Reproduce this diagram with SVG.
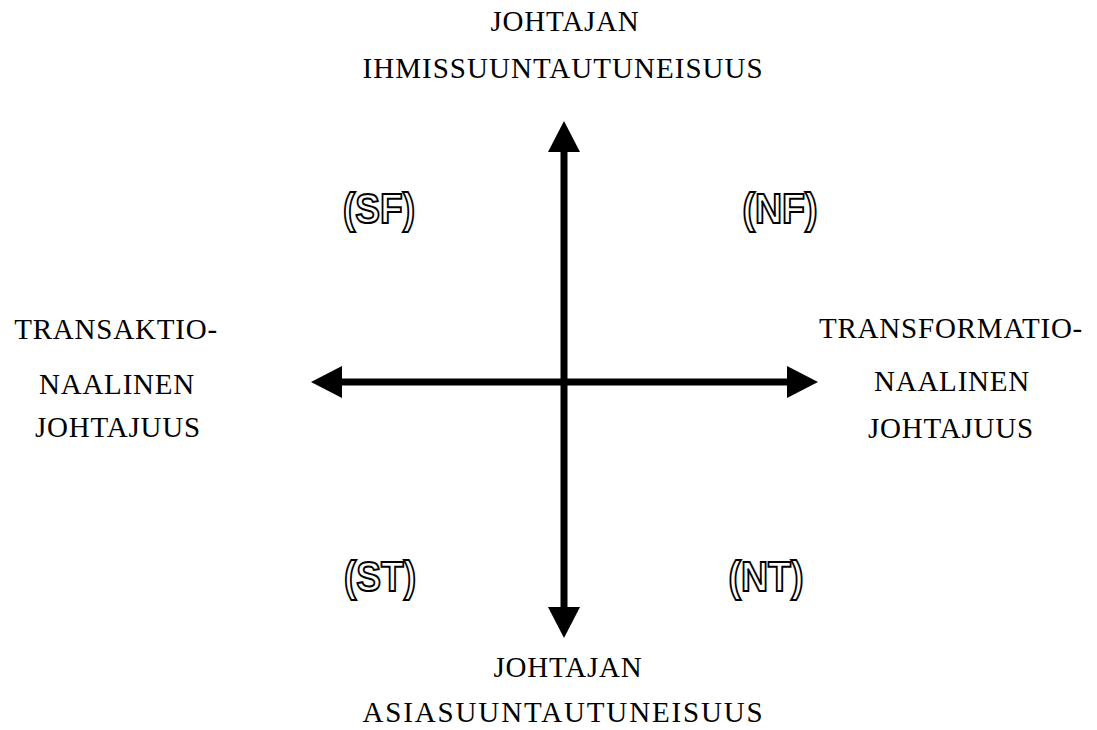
<svg xmlns="http://www.w3.org/2000/svg" width="1097" height="730" viewBox="0 0 1097 730">
<style>
.lbl{font-family:"Liberation Serif","Times New Roman",serif;font-size:29px;letter-spacing:0.8px;fill:#000;text-anchor:middle}
.q{font-family:"Liberation Sans",Arial,sans-serif;font-weight:bold;font-size:42px;fill:#fff;stroke:#000;stroke-width:2px;text-anchor:middle}
.ax{stroke:#000;stroke-width:7;fill:none}
</style>
<defs>
<marker id="ah" viewBox="0 0 31 32" refX="0" refY="16" markerWidth="31" markerHeight="32" markerUnits="userSpaceOnUse" orient="auto">
<path d="M0,0 L31,16 L0,32 Z" fill="#000"/>
</marker>
</defs>
<rect width="1097" height="730" fill="#fff"/>
<g id="connectors">
<line class="ax" x1="564" y1="382" x2="564" y2="152" marker-end="url(#ah)"/>
<line class="ax" x1="564" y1="382" x2="564" y2="607" marker-end="url(#ah)"/>
<line class="ax" x1="564" y1="382" x2="342" y2="382" marker-end="url(#ah)"/>
<line class="ax" x1="564" y1="382" x2="787" y2="382" marker-end="url(#ah)"/>
</g>
<g id="top">
<text class="lbl" x="565" y="31">JOHTAJAN</text>
<text class="lbl" x="563" y="78" textLength="401">IHMISSUUNTAUTUNEISUUS</text>
</g>
<g id="bottom">
<text class="lbl" x="568" y="677">JOHTAJAN</text>
<text class="lbl" x="563" y="722" textLength="401">ASIASUUNTAUTUNEISUUS</text>
</g>
<g id="left">
<text class="lbl" x="116" y="339">TRANSAKTIO-</text>
<text class="lbl" x="117" y="394">NAALINEN</text>
<text class="lbl" x="118" y="437">JOHTAJUUS</text>
</g>
<g id="right">
<text class="lbl" x="951" y="338">TRANSFORMATIO-</text>
<text class="lbl" x="952" y="391">NAALINEN</text>
<text class="lbl" x="951" y="438">JOHTAJUUS</text>
</g>
<g id="SF"><text class="q" x="379" y="223" textLength="72" lengthAdjust="spacingAndGlyphs">(SF)</text></g>
<g id="NF"><text class="q" x="780" y="223" textLength="75" lengthAdjust="spacingAndGlyphs">(NF)</text></g>
<g id="ST"><text class="q" x="380" y="591" textLength="72" lengthAdjust="spacingAndGlyphs">(ST)</text></g>
<g id="NT"><text class="q" x="766" y="591" textLength="75" lengthAdjust="spacingAndGlyphs">(NT)</text></g>
</svg>
